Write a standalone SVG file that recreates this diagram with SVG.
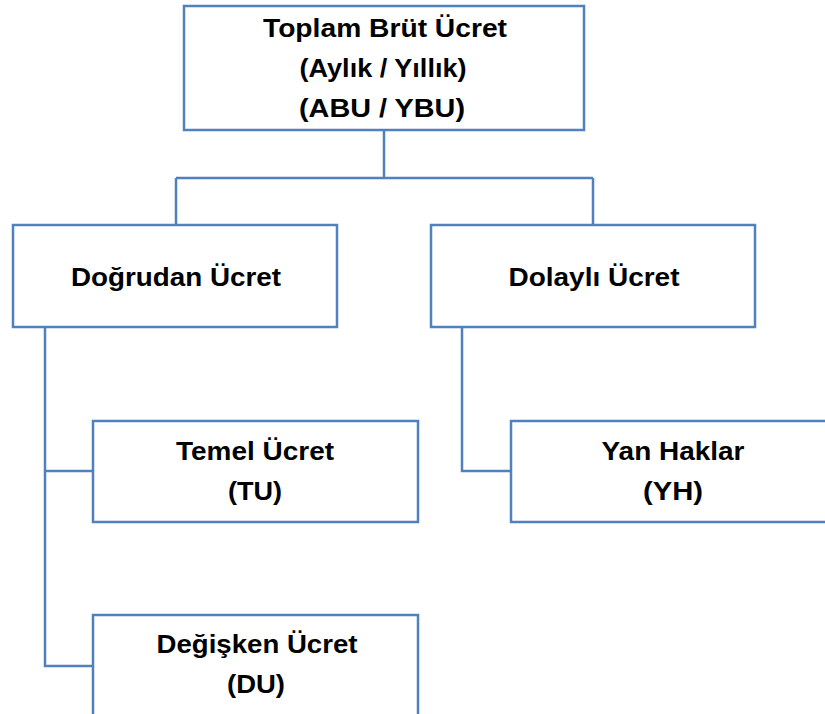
<svg xmlns="http://www.w3.org/2000/svg" width="825" height="714" viewBox="0 0 825 714">
<style>
.box{fill:#ffffff;stroke:#4F81BD;stroke-width:2.5}
.con{fill:none;stroke:#4F81BD;stroke-width:2.5}
.t{font-family:"Liberation Sans",Arial,sans-serif;font-weight:bold;font-size:26px;fill:#000;text-anchor:middle}
</style>
<rect width="825" height="714" fill="#ffffff"/>
<g id="connectors">
<path class="con" d="M384,130 V178 M176,178 H593 M176,178 V225 M593,178 V225"/>
<path class="con" d="M45,327 V666 H93 M45,471 H93"/>
<path class="con" d="M462,327 V471 H511"/>
</g>
<g id="node-toplam">
<rect class="box" x="184" y="6" width="400" height="124"/>
<text class="t" x="385" y="37" textLength="244" lengthAdjust="spacingAndGlyphs">Toplam Brüt Ücret</text>
<text class="t" x="383" y="77" textLength="167" lengthAdjust="spacingAndGlyphs">(Aylık / Yıllık)</text>
<text class="t" x="382" y="117" textLength="166" lengthAdjust="spacingAndGlyphs">(ABU / YBU)</text>
</g>
<g id="node-dogrudan">
<rect class="box" x="13" y="225" width="324" height="102"/>
<text class="t" x="176" y="286" textLength="210" lengthAdjust="spacingAndGlyphs">Doğrudan Ücret</text>
</g>
<g id="node-dolayli">
<rect class="box" x="431" y="225" width="324" height="102"/>
<text class="t" x="594" y="286" textLength="171" lengthAdjust="spacingAndGlyphs">Dolaylı Ücret</text>
</g>
<g id="node-temel">
<rect class="box" x="93" y="421" width="325" height="101"/>
<text class="t" x="255" y="460" textLength="158" lengthAdjust="spacingAndGlyphs">Temel Ücret</text>
<text class="t" x="255" y="500" textLength="54" lengthAdjust="spacingAndGlyphs">(TU)</text>
</g>
<g id="node-yan">
<rect class="box" x="511" y="421" width="325" height="101"/>
<text class="t" x="673" y="460" textLength="143" lengthAdjust="spacingAndGlyphs">Yan Haklar</text>
<text class="t" x="673" y="500" textLength="60" lengthAdjust="spacingAndGlyphs">(YH)</text>
</g>
<g id="node-degisken">
<rect class="box" x="93" y="615" width="325" height="110"/>
<text class="t" x="257" y="653" textLength="201" lengthAdjust="spacingAndGlyphs">Değişken Ücret</text>
<text class="t" x="256" y="693" textLength="58" lengthAdjust="spacingAndGlyphs">(DU)</text>
</g>
</svg>
